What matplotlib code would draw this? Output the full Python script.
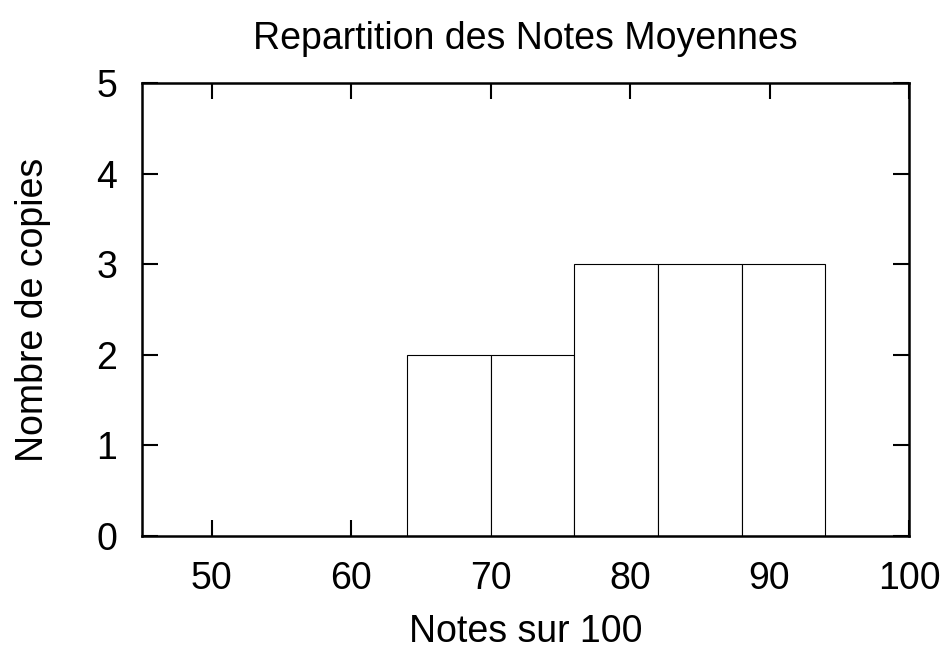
import matplotlib
matplotlib.use("Agg")
import matplotlib.pyplot as plt

plt.rcParams['font.family'] = ['Liberation Sans', 'DejaVu Sans']

bin_left = [64, 70, 76, 82, 88]
counts = [2, 2, 3, 3, 3]
bin_width = 6
xticks = [50, 60, 70, 80, 90, 100]
yticks = [0, 1, 2, 3, 4, 5]
title = "Repartition des Notes Moyennes"
xlabel = "Notes sur 100"
ylabel = "Nombre de copies"

fig = plt.figure(figsize=(9.52, 6.49), dpi=100)
ax = fig.add_axes([142/952, (649-535.7)/649, (909-142)/952, (535.7-83.3)/649])

ax.bar(bin_left, counts, width=bin_width, align='edge', facecolor='white',
       edgecolor='black', linewidth=0.8, zorder=2)

ax.set_xlim(45, 100)
ax.set_ylim(0, 5)
ax.set_xticks(xticks)
ax.set_yticks(yticks)
ax.tick_params(direction='in', length=11.5, width=1.5, labelsize=27,
               top=True, right=True, pad=18, color='black')
for s in ax.spines.values():
    s.set_linewidth(1.8)
    s.set_zorder(3)

fs = 27
ax.set_title(title, fontsize=fs, pad=24.5)
ax.set_xlabel(xlabel, fontsize=fs)
ax.set_ylabel(ylabel, fontsize=fs)
ax.xaxis.set_label_coords(0.5, (535.7-613.5)/452.4)
ax.yaxis.set_label_coords((51-142)/767, 0.5)
ax.xaxis.label.set_va('top')

fig.savefig("out.png", dpi=100)
